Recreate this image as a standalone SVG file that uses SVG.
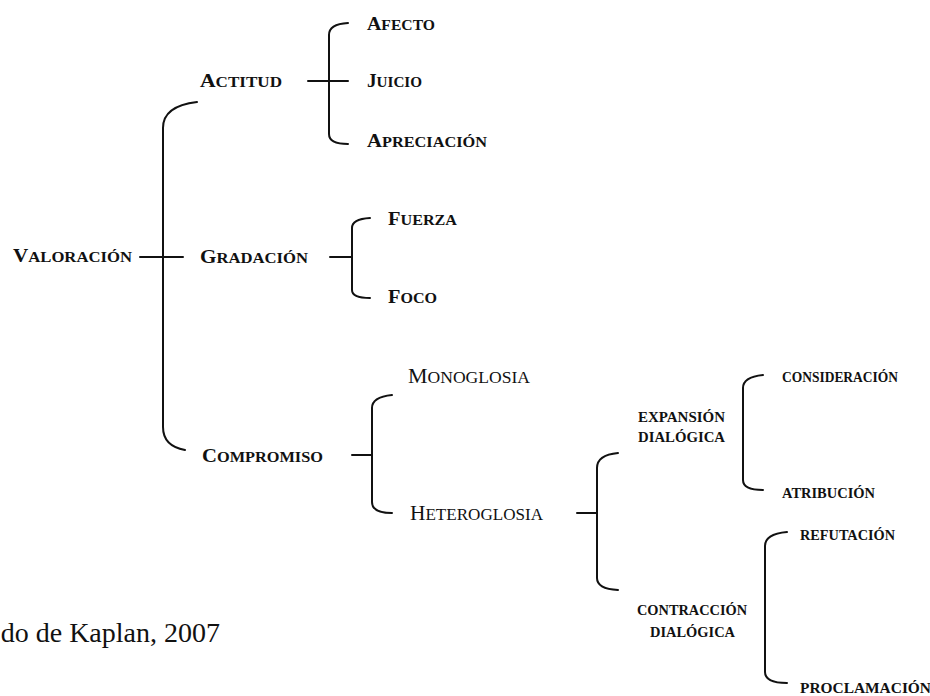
<svg xmlns="http://www.w3.org/2000/svg" width="930" height="696" viewBox="0 0 930 696">
<style>
text{font-family:"Liberation Serif","Times New Roman",serif;fill:#111;}
.a{font-weight:bold;font-size:15px;}
.a .c{font-size:19px;}
.m{font-weight:normal;font-size:16px;}
.m .c{font-size:20px;}
.b{font-weight:bold;font-size:14px;}
.cap{font-size:28px;font-weight:normal;}
.br{fill:none;stroke:#111;stroke-width:2;stroke-linecap:round;stroke-linejoin:round;}
</style>
<rect width="930" height="696" fill="#fff"/>
<g id="connectors">
<path class="br" d="M197,102 Q163,106 163,128 L163,427 Q163,446 185,450"/>
<path class="br" d="M140,257 L183,257"/>
<path class="br" d="M348,23 Q329,24 329,35 L329,134 Q329,144 348,144"/>
<path class="br" d="M308,81 L348,81"/>
<path class="br" d="M370,218 Q352,219 352,228 L352,290 Q352,298 370,298"/>
<path class="br" d="M330,257 L352,257"/>
<path class="br" d="M392,395 Q372,397 372,408 L372,502 Q372,513 392,513"/>
<path class="br" d="M352,455 L372,455"/>
<path class="br" d="M618,453 Q597,455 597,468 L597,578 Q597,589 618,590"/>
<path class="br" d="M577,513 L597,513"/>
<path class="br" d="M763,375 Q743,377 743,388 L743,480 Q743,490 763,490"/>
<path class="br" d="M787,532 Q765,534 765,546 L765,672 Q765,683 787,683"/>
</g>
<g id="valoracion"><text class="a" x="13" y="262" textLength="119" lengthAdjust="spacingAndGlyphs"><tspan class="c">V</tspan>ALORACIÓN</text></g>
<g id="actitud"><text class="a" x="200" y="87" textLength="82" lengthAdjust="spacingAndGlyphs"><tspan class="c">A</tspan>CTITUD</text></g>
<g id="gradacion"><text class="a" x="200" y="263" textLength="108" lengthAdjust="spacingAndGlyphs"><tspan class="c">G</tspan>RADACIÓN</text></g>
<g id="compromiso"><text class="a" x="202" y="462" textLength="121" lengthAdjust="spacingAndGlyphs"><tspan class="c">C</tspan>OMPROMISO</text></g>
<g id="afecto"><text class="a" x="367" y="30" textLength="68" lengthAdjust="spacingAndGlyphs"><tspan class="c">A</tspan>FECTO</text></g>
<g id="juicio"><text class="a" x="367" y="87" textLength="55" lengthAdjust="spacingAndGlyphs"><tspan class="c">J</tspan>UICIO</text></g>
<g id="apreciacion"><text class="a" x="367" y="147" textLength="120" lengthAdjust="spacingAndGlyphs"><tspan class="c">A</tspan>PRECIACIÓN</text></g>
<g id="fuerza"><text class="a" x="388" y="225" textLength="69" lengthAdjust="spacingAndGlyphs"><tspan class="c">F</tspan>UERZA</text></g>
<g id="foco"><text class="a" x="388" y="303" textLength="49" lengthAdjust="spacingAndGlyphs"><tspan class="c">F</tspan>OCO</text></g>
<g id="monoglosia"><text class="m" x="408" y="383" textLength="122" lengthAdjust="spacingAndGlyphs"><tspan class="c">M</tspan>ONOGLOSIA</text></g>
<g id="heteroglosia"><text class="m" x="410" y="520" textLength="133" lengthAdjust="spacingAndGlyphs"><tspan class="c">H</tspan>ETEROGLOSIA</text></g>
<g id="expansion"><text class="b" x="638" y="422" textLength="87" lengthAdjust="spacingAndGlyphs">EXPANSIÓN</text><text class="b" x="638" y="442" textLength="87" lengthAdjust="spacingAndGlyphs">DIALÓGICA</text></g>
<g id="contraccion"><text class="b" x="637" y="615" textLength="110" lengthAdjust="spacingAndGlyphs">CONTRACCIÓN</text><text class="b" x="650" y="637" textLength="85" lengthAdjust="spacingAndGlyphs">DIALÓGICA</text></g>
<g id="consideracion"><text class="b" x="782" y="382" textLength="116" lengthAdjust="spacingAndGlyphs">CONSIDERACIÓN</text></g>
<g id="atribucion"><text class="b" x="782" y="498" textLength="93" lengthAdjust="spacingAndGlyphs">ATRIBUCIÓN</text></g>
<g id="refutacion"><text class="b" x="800" y="540" textLength="95" lengthAdjust="spacingAndGlyphs">REFUTACIÓN</text></g>
<g id="proclamacion"><text class="b" x="800" y="693" textLength="131" lengthAdjust="spacingAndGlyphs">PROCLAMACIÓN</text></g>
<g id="caption"><text class="cap" x="220" y="642" text-anchor="end">do de Kaplan, 2007</text></g>
</svg>
